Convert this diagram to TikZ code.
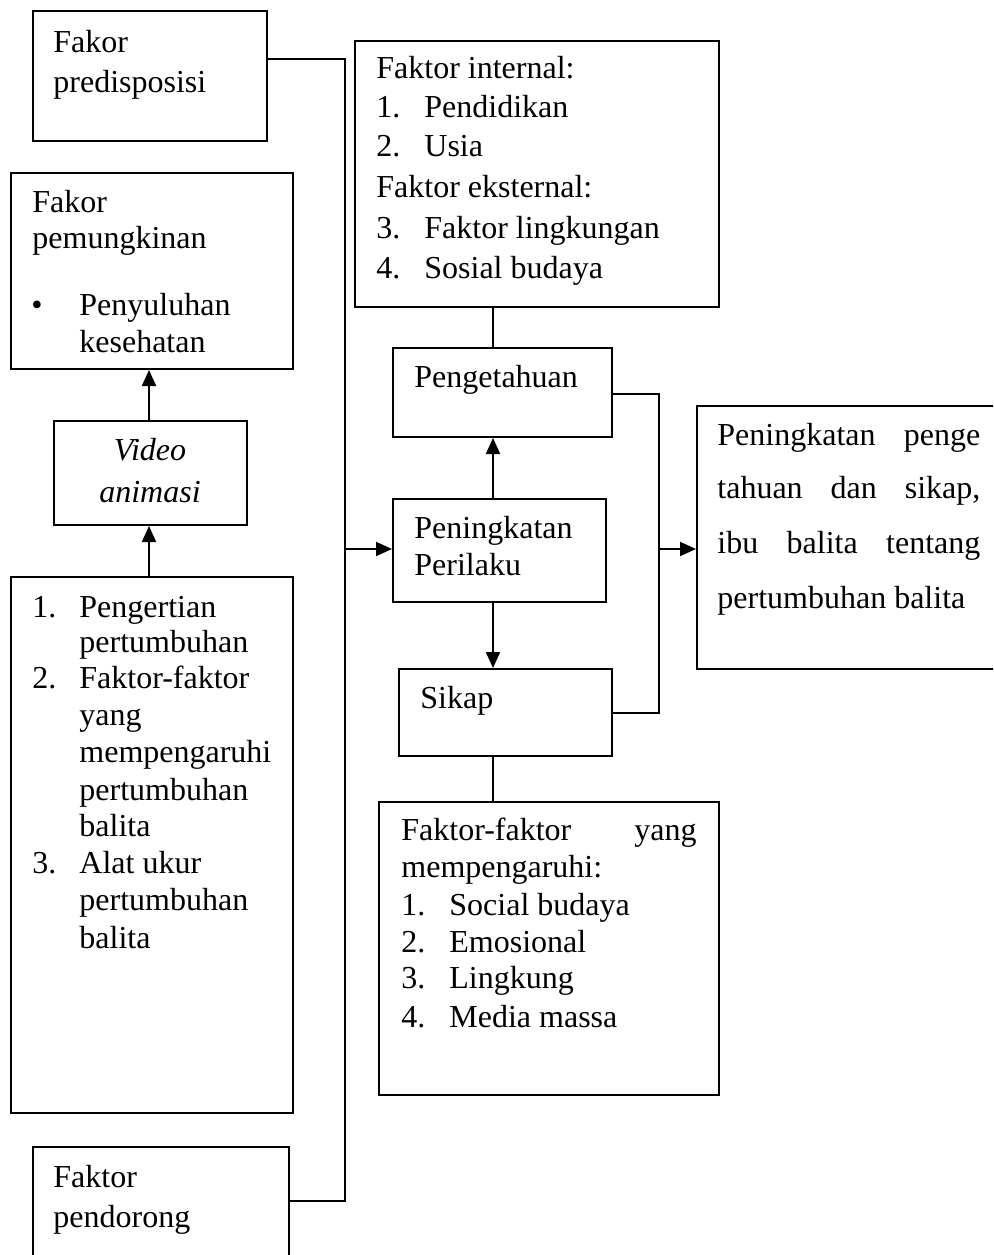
\documentclass[tikz,border=0pt]{standalone}
\usepackage{fontspec}
\setmainfont{Liberation Serif}
\usetikzlibrary{fit,arrows.meta}
\begin{document}
\begin{tikzpicture}[x=0.5pt,y=-0.5pt,
  box/.style={draw,line width=1pt,inner sep=0pt,rectangle},
  txt/.style={anchor=base west,inner sep=0pt,font=\fontsize{16}{19}\selectfont},
  rtx/.style={anchor=base east,inner sep=0pt,font=\fontsize{16}{19}\selectfont},
  itx/.style={anchor=base,inner sep=0pt,font=\fontsize{16}{19}\selectfont\itshape},
  wire/.style={line width=1pt},
  arr/.style={line width=1pt,-{Triangle[length=8pt,width=7pt]}}]
\useasboundingbox (0,0) rectangle (993,1255);
\clip (0,0) rectangle (993,1255);

% boxes
\node[box,fit={(33,11) (267,141)}] (pred) {};
\node[box,fit={(11,173) (293,369)}] (pem) {};
\node[box,fit={(54,421) (247,525)}] (vid) {};
\node[box,fit={(11,577) (293,1113)}] (list) {};
\node[box,fit={(33,1147) (289,1300)}] (pend) {};
\node[box,fit={(355,41) (719,307)}] (intern) {};
\node[box,fit={(393,348) (612,437)}] (peng) {};
\node[box,fit={(393,499) (606,602)}] (peri) {};
\node[box,fit={(399,669) (612,756)}] (sikap) {};
\node[box,fit={(697,406) (1060,669)}] (hasil) {};
\node[box,fit={(379,802) (719,1095)}] (ff) {};

% texts: predisposisi
\node[txt] (t1) at (53,52) {Fakor};
\node[txt] (t2) at (53,92) {predisposisi};
% pemungkinan
\node[txt] (t3) at (32,212) {Fakor};
\node[txt] (t4) at (32,248) {pemungkinan};
\node[txt] (t5) at (31,315) {•};
\node[txt] (t6) at (79,315) {Penyuluhan};
\node[txt] (t7) at (79,352) {kesehatan};
% video
\node[itx] (t8) at (150,460) {Video};
\node[itx] (t9) at (150,502) {animasi};
% list
\node[txt] (l1n) at (32,617) {1.};
\node[txt] (l1) at (79,617) {Pengertian};
\node[txt] (l2) at (79,652) {pertumbuhan};
\node[txt] (l3n) at (32,688) {2.};
\node[txt] (l3) at (79,688) {Faktor-faktor};
\node[txt] (l4) at (79,725) {yang};
\node[txt] (l5) at (79,762) {mempengaruhi};
\node[txt] (l6) at (79,800) {pertumbuhan};
\node[txt] (l7) at (79,836) {balita};
\node[txt] (l8n) at (32,873) {3.};
\node[txt] (l8) at (79,873) {Alat ukur};
\node[txt] (l9) at (79,910) {pertumbuhan};
\node[txt] (l10) at (79,948) {balita};
% pendorong
\node[txt] (p1) at (53,1187) {Faktor};
\node[txt] (p2) at (53,1227) {pendorong};
% internal
\node[txt] (i1) at (376,78) {Faktor internal:};
\node[txt] (i2n) at (376,117) {1.};
\node[txt] (i2) at (424,117) {Pendidikan};
\node[txt] (i3n) at (376,156) {2.};
\node[txt] (i3) at (424,156) {Usia};
\node[txt] (i4) at (376,197) {Faktor eksternal:};
\node[txt] (i5n) at (376,238) {3.};
\node[txt] (i5) at (424,238) {Faktor lingkungan};
\node[txt] (i6n) at (376,278) {4.};
\node[txt] (i6) at (424,278) {Sosial budaya};
% middle
\node[txt] (m1) at (414,387) {Pengetahuan};
\node[txt] (m2) at (414,538) {Peningkatan};
\node[txt] (m3) at (414,575) {Perilaku};
\node[txt] (m4) at (420,708) {Sikap};
% hasil
\node[txt] (h1) at (717,445) {\makebox[131.5pt][s]{Peningkatan penge}};
\node[txt] (h2) at (717,498) {\makebox[131.5pt][s]{tahuan dan sikap,}};
\node[txt] (h3) at (717,553) {\makebox[131.5pt][s]{ibu balita tentang}};
\node[txt] (h4) at (717,608) {pertumbuhan balita};
% faktor-faktor
\node[txt] (f1) at (401,840) {Faktor-faktor};
\node[rtx] (f1b) at (697,840) {yang};
\node[txt] (f2) at (401,877) {mempengaruhi:};
\node[txt] (f3n) at (401,915) {1.};
\node[txt] (f3) at (449,915) {Social budaya};
\node[txt] (f4n) at (401,952) {2.};
\node[txt] (f4) at (449,952) {Emosional};
\node[txt] (f5n) at (401,988) {3.};
\node[txt] (f5) at (449,988) {Lingkung};
\node[txt] (f6n) at (401,1027) {4.};
\node[txt] (f6) at (449,1027) {Media massa};

% connector coordinates
\coordinate (j1) at (345,59);
\coordinate (j2) at (345,1201);
\coordinate (j3) at (345,549);
\coordinate (cx) at (493,0);
\coordinate (ax) at (149,0);
\coordinate (r1) at (659,394);
\coordinate (r2) at (659,713);
\coordinate (r3) at (659,549);

% connectors
\draw[wire] (pred.east |- j1) -- (j1) -- (j2) -- (pend.east |- j2);
\draw[arr] (j3) -- (peri.west |- j3);
\draw[arr] (vid.north -| ax) -- (pem.south -| ax);
\draw[arr] (list.north -| ax) -- (vid.south -| ax);
\draw[wire] (intern.south -| cx) -- (peng.north -| cx);
\draw[arr] (peri.north -| cx) -- (peng.south -| cx);
\draw[arr] (peri.south -| cx) -- (sikap.north -| cx);
\draw[wire] (sikap.south -| cx) -- (ff.north -| cx);
\draw[wire] (peng.east |- r1) -- (r1) -- (r2) -- (sikap.east |- r2);
\draw[arr] (r3) -- (hasil.west |- r3);
\end{tikzpicture}
\end{document}
